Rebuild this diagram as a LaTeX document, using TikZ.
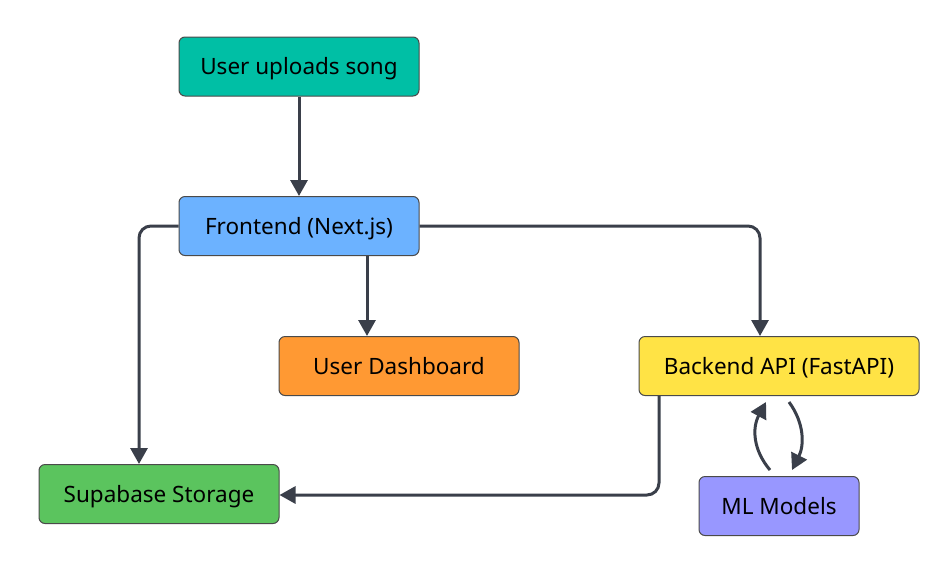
\documentclass[tikz,border=0pt]{standalone}
\usepackage{fontspec}
\setmainfont{Noto Sans}
\usetikzlibrary{arrows.meta}
\definecolor{cteal}{HTML}{00BFA5}
\definecolor{cblue}{HTML}{6CB2FF}
\definecolor{corange}{HTML}{FF9933}
\definecolor{cyellow}{HTML}{FFE345}
\definecolor{cgreen}{HTML}{5BC45E}
\definecolor{cpurple}{HTML}{9897FF}
\definecolor{cline}{HTML}{3A3F4A}
\definecolor{cborder}{HTML}{4A4A4A}
\tikzset{
  box/.style={draw=cborder, line width=1pt, rounded corners=6pt, minimum height=59pt, inner sep=0pt, text height=16pt, text depth=0pt, font=\fontsize{22.5}{26}\selectfont, text=black},
  conn/.style={draw=cline, line width=3pt, rounded corners=12pt, -{Triangle[length=16pt,width=17pt]}},
}
\begin{document}
\begin{tikzpicture}[x=1pt,y=-1pt]
\useasboundingbox[fill=white] (0,0) rectangle (949,576);
\node[box, fill=cteal, minimum width=240pt] (up) at (299,66.5) {User uploads song};
\node[box, fill=cblue, minimum width=240pt] (fe) at (299,226) {Frontend (Next.js)};
\node[box, fill=corange, minimum width=240pt] (ud) at (399,366) {User Dashboard};
\node[box, fill=cyellow, minimum width=280pt] (be) at (779,366) {Backend API (FastAPI)};
\node[box, fill=cgreen, minimum width=240pt] (ss) at (159,494) {Supabase Storage};
\node[box, fill=cpurple, minimum width=160pt] (ml) at (779,506) {ML Models};
\coordinate (fd) at ([xshift=68pt]fe.south);
\coordinate (bd) at ([xshift=-120pt]be.south);
\draw[conn] (up.south) -- (fe.north);
\draw[conn] (fd) -- (fd |- ud.north);
\draw[conn] (fe.west) -| ([xshift=-20pt]ss.north);
\draw[conn] (fe.east) -| ([xshift=-19pt]be.north);
\draw[conn] (bd) |- ([yshift=-1pt]ss.east);
\draw[conn, rounded corners=0pt] ([xshift=-9pt,yshift=6pt]ml.north) .. controls (753,450) and (752,428) .. ([xshift=-13pt,yshift=-6pt]be.south);
\draw[conn, rounded corners=0pt] ([xshift=10pt,yshift=-6pt]be.south) .. controls (805,424) and (804,446) .. ([xshift=13pt,yshift=6pt]ml.north);
\end{tikzpicture}
\end{document}
